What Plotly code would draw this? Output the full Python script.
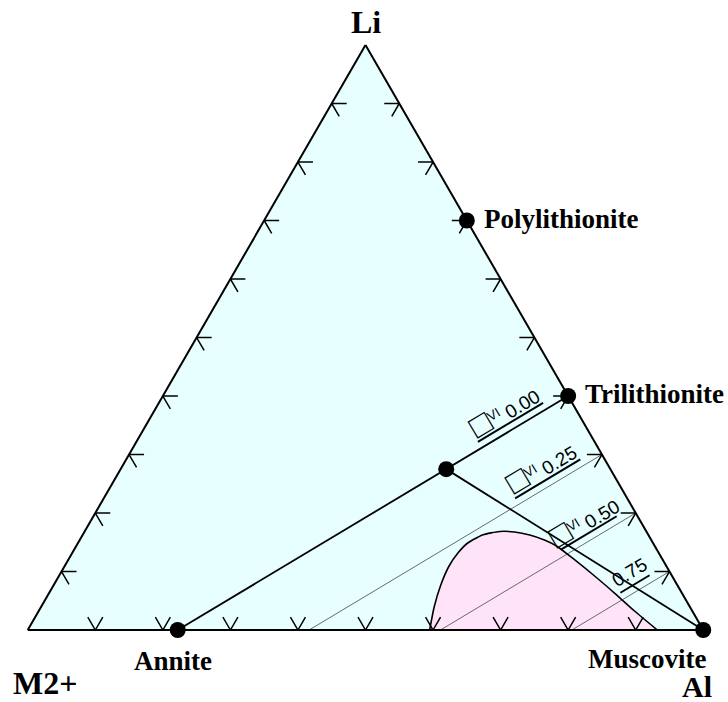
import math
import plotly.graph_objects as go

# ------------------------------------------------------------------
# Data (ternary fractions: Li apex, M2+ bottom-left, Al bottom-right)
# ------------------------------------------------------------------
VERTEX_TITLES = ["Li", "M2+", "Al"]

EM_NAMES = ["Annite", "Muscovite", "Polylithionite", "Trilithionite"]
EM_LI = [0.0, 0.0, 0.70, 0.40]
EM_M2 = [0.778, 0.0, 0.0, 0.0]
EM_AL = [0.222, 1.0, 0.30, 0.60]

MID_LI = [0.275]
MID_M2 = [0.243]
MID_AL = [0.482]

VAC_LABELS = ["0.00", "0.25", "0.50", "0.75"]
VAC_START_LI = [0.0, 0.0, 0.0, 0.0]
VAC_START_AL = [0.222, 0.4165, 0.611, 0.8055]
VAC_END_LI = [0.40, 0.30, 0.20, 0.10]
VAC_END_AL = [0.60, 0.70, 0.80, 0.90]

TICKS = [0.1, 0.2, 0.3, 0.4, 0.5, 0.6, 0.7, 0.8, 0.9]

FIELD_LI = [0.0, 0.0393, 0.0769, 0.1094, 0.1316, 0.1487, 0.1624, 0.1684, 0.1675,
            0.1624, 0.1538, 0.1436, 0.1197, 0.0923, 0.0632, 0.0325, 0.0]
FIELD_AL = [0.595, 0.582, 0.573, 0.569, 0.571, 0.577, 0.592, 0.6145, 0.637,
            0.662, 0.688, 0.711, 0.750, 0.793, 0.837, 0.882, 0.932]

# ------------------------------------------------------------------
# Layout geometry / styles
# ------------------------------------------------------------------
W, H = 728, 702
TRI_L, TRI_R, TRI_T, TRI_B = 27, 704, 45, 630
SQ3 = math.sqrt(3)
SIDE = min(TRI_R - TRI_L, (TRI_B - TRI_T) * 2 / SQ3)
HGT = SIDE * SQ3 / 2
X0 = (TRI_L + TRI_R) / 2 - SIDE / 2
YB = (TRI_T + TRI_B) / 2 + HGT / 2

CYAN = "#E8FFFF"
PINK = "#FFE3F8"
SERIF = "Liberation Serif"
SANS = "Liberation Sans"
TICK_LEN = 15 / SIDE


def to_px(a, c):
    return X0 + SIDE * (c + a / 2), YB - HGT * a


def to_paper(xp, yp):
    return xp / W, 1 - yp / H


def rest(a, c):
    return [1 - ai - ci for ai, ci in zip(a, c)]


fig = go.Figure()

# pink field
fig.add_trace(go.Scatterternary(
    a=FIELD_LI, b=rest(FIELD_LI, FIELD_AL), c=FIELD_AL, mode="none",
    fill="toself", fillcolor=PINK, hoverinfo="skip"))

# thin parallel vacancy lines (0.25, 0.50, 0.75)
for i in range(1, 4):
    a = [VAC_START_LI[i], VAC_END_LI[i]]
    c = [VAC_START_AL[i], VAC_END_AL[i]]
    fig.add_trace(go.Scatterternary(a=a, b=rest(a, c), c=c, mode="lines",
                                    line=dict(color="#6a6a6a", width=1), hoverinfo="skip"))

# pink field boundary
fig.add_trace(go.Scatterternary(
    a=FIELD_LI, b=rest(FIELD_LI, FIELD_AL), c=FIELD_AL, mode="lines",
    line=dict(color="black", width=1.6, shape="spline", smoothing=0.6), hoverinfo="skip"))

# main lines: Annite -> Trilithionite, intermediate point -> Muscovite
a = [EM_LI[0], EM_LI[3]]
c = [EM_AL[0], EM_AL[3]]
fig.add_trace(go.Scatterternary(a=a, b=rest(a, c), c=c, mode="lines",
                                line=dict(color="black", width=1.8), hoverinfo="skip"))
a = [MID_LI[0], EM_LI[1]]
c = [MID_AL[0], EM_AL[1]]
fig.add_trace(go.Scatterternary(a=a, b=rest(a, c), c=c, mode="lines",
                                line=dict(color="black", width=1.8), hoverinfo="skip"))

# chevron ticks along the three edges
ta, tb, tc = [], [], []
L = TICK_LEN
for t in TICKS:
    seg1 = [(L, 1 - t, t - L), (0, 1 - t, t), (L, 1 - t - L, t)]        # bottom edge
    seg2 = [(t, 1 - t - L, L), (t, 1 - t, 0), (t - L, 1 - t, L)]        # left edge
    seg3 = [(t, L, 1 - t - L), (t, 0, 1 - t), (t - L, L, 1 - t)]        # right edge
    for s in (seg1, seg2, seg3):
        for p in s:
            ta.append(p[0]); tb.append(p[1]); tc.append(p[2])
        ta.append(None); tb.append(None); tc.append(None)
fig.add_trace(go.Scatterternary(a=ta, b=tb, c=tc, mode="lines", cliponaxis=False,
                                line=dict(color="black", width=1.5), hoverinfo="skip"))

# points
fig.add_trace(go.Scatterternary(a=EM_LI + MID_LI, b=EM_M2 + MID_M2, c=EM_AL + MID_AL,
                                mode="markers", cliponaxis=False,
                                marker=dict(color="black", size=16),
                                hoverinfo="skip"))

annotations = []
shapes = []

# vertex titles
vt_off = [(0, 23), (17, -53), (-6, -56)]
vt_size = [32, 32, 30]
vt_pos = [(1, 0), (0, 0), (0, 1)]
for name, (a_, c_), (dx, dy), fs in zip(VERTEX_TITLES, vt_pos, vt_off, vt_size):
    xp, yp = to_px(a_, c_)
    px_, py_ = to_paper(xp, yp)
    annotations.append(dict(x=px_, y=py_, xref="paper", yref="paper", text=name,
                            showarrow=False, xanchor="center", yanchor="middle",
                            xshift=dx, yshift=dy, borderpad=0,
                            font=dict(family=SERIF, size=fs, color="black", weight="bold")))

# end-member labels
em_style = [("center", -5, -31), ("center", -56, -29), ("left", 16, 2), ("left", 16, 2)]
for name, a_, c_, (anc, dx, dy) in zip(EM_NAMES, EM_LI, EM_AL, em_style):
    xp, yp = to_px(a_, c_)
    px_, py_ = to_paper(xp, yp)
    annotations.append(dict(x=px_, y=py_, xref="paper", yref="paper", text=name,
                            showarrow=False, xanchor=anc, yanchor="middle",
                            xshift=dx, yshift=dy, borderpad=0,
                            font=dict(family=SERIF, size=27, color="black", weight="bold")))

# vacancy labels with underline bars
lab_dist = [62, 58, 48, 35]
lab_perp = [22, 22, 21, 20]
ul_span = [(101, 25), (97, 21), (83, 18), (53, 19)]
for i, lab in enumerate(VAC_LABELS):
    sx, sy = to_px(VAC_START_LI[i], VAC_START_AL[i])
    ex, ey = to_px(VAC_END_LI[i], VAC_END_AL[i])
    ln = math.hypot(ex - sx, ey - sy)
    ux, uy = (ex - sx) / ln, (ey - sy) / ln
    nx, ny = uy, -ux
    ang = math.degrees(math.atan2(-(ey - sy), ex - sx))
    cx = ex - lab_dist[i] * ux + lab_perp[i] * nx
    cy = ey - lab_dist[i] * uy + lab_perp[i] * ny
    px_, py_ = to_paper(cx, cy)
    if i < 3:
        txt = "<span style='font-size:33px'>□</span><sup>VI</sup> " + lab
    else:
        txt = lab
    annotations.append(dict(x=px_, y=py_, xref="paper", yref="paper", text=txt,
                            showarrow=False, xanchor="center", yanchor="middle",
                            textangle=-ang,
                            font=dict(family=SANS, size=19, color="black")))
    d1, d2 = ul_span[i]
    x1p, y1p = to_paper(ex - d1 * ux + 7 * nx, ey - d1 * uy + 7 * ny)
    x2p, y2p = to_paper(ex - d2 * ux + 7 * nx, ey - d2 * uy + 7 * ny)
    shapes.append(dict(type="line", xref="paper", yref="paper",
                       x0=x1p, y0=y1p, x1=x2p, y1=y2p,
                       line=dict(color="black", width=2)))

axis_style = dict(showticklabels=False, ticks="", showgrid=False, showline=True,
                  linecolor="black", linewidth=2, title=dict(text=""))

fig.update_layout(
    width=W, height=H,
    margin=dict(l=0, r=0, t=0, b=0),
    paper_bgcolor="white",
    showlegend=False,
    ternary=dict(
        sum=1,
        bgcolor=CYAN,
        domain=dict(x=[TRI_L / W, TRI_R / W], y=[1 - TRI_B / H, 1 - TRI_T / H]),
        aaxis=axis_style, baxis=axis_style, caxis=axis_style,
    ),
    annotations=annotations,
    shapes=shapes,
)

fig.write_html("out.html")
